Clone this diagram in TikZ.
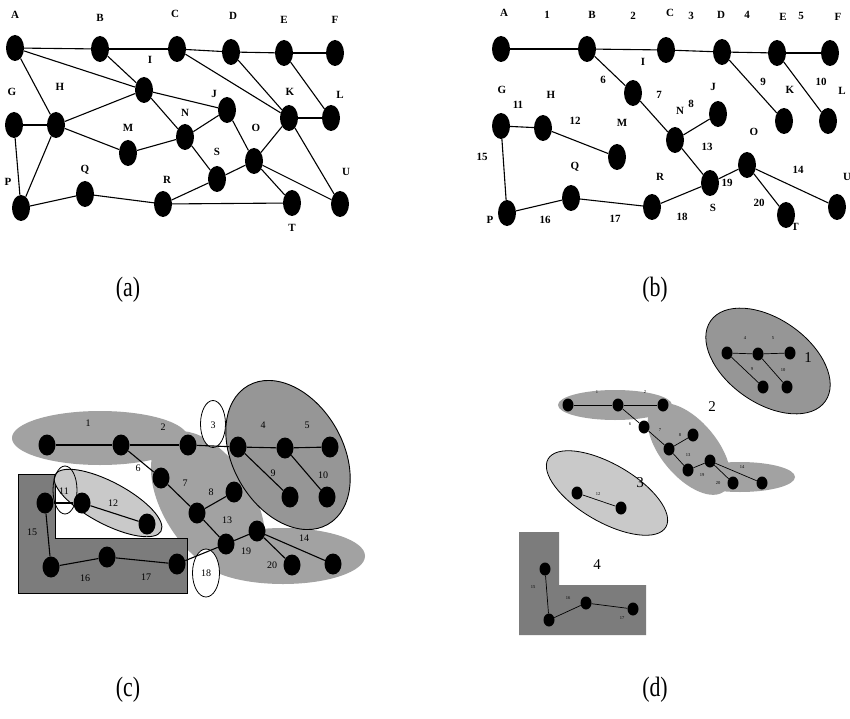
\documentclass[tikz,border=0pt]{standalone}
\usepackage{fontspec}
\setmainfont{Liberation Serif}
\usetikzlibrary{shapes.geometric}
\definecolor{regc}{HTML}{A2A2A2}
\definecolor{regone}{HTML}{969696}
\definecolor{regthree}{HTML}{C9C9C9}
\definecolor{regfour}{HTML}{7C7C7C}
\tikzset{
  vtx/.style={ellipse, fill=black, inner sep=0pt, minimum width=18pt, minimum height=26pt},
  cvtx/.style={ellipse, fill=black, inner sep=0pt, minimum width=17pt, minimum height=21pt},
  dvtx/.style={ellipse, fill=black, inner sep=0pt, minimum width=11pt, minimum height=13pt},
  lbl/.style={font=\fontsize{11}{11}\selectfont\bfseries, inner sep=0pt},
  clbl/.style={font=\fontsize{10}{10}\selectfont, inner sep=0pt},
  dlbl/.style={font=\fontsize{4.5}{4.5}\selectfont, inner sep=0pt},
  biglbl/.style={font=\fontsize{15}{15}\selectfont, inner sep=0pt},
  caplbl/.style={font=\fontsize{28}{28}\selectfont, inner sep=0pt},
  edge/.style={line width=1.1pt},
  dedge/.style={line width=0.7pt},
  ring/.style={draw=black, line width=0.8pt}
}
\begin{document}
\begin{tikzpicture}[x=1pt, y=-1pt]
\useasboundingbox (0,0) rectangle (850,719);
\fill[white] (0,0) rectangle (850,719);

%%%%%%%%%%%%%%%% (a)
\foreach \n/\x/\y in {A/15/48, B/100/49, C/177/49, D/231/52, E/284/53, F/335/53,
  I/144/90, G/14/125, H/56/125, J/227/110, K/289/118, L/331/118, M/128/153,
  N/185/137, O/254/161, S/217/179, P/21/208, Q/85/194, R/163/204, T/292/203, U/340/204}
  \node[vtx] (a\n) at (\x,\y) {};
\foreach \u/\v in {A/B, B/C, C/D, D/E, E/F, A/I, A/H, B/I, I/H, I/J, I/N, C/K, D/K,
  E/L, K/L, G/H, G/P, H/P, H/M, M/N, N/J, N/S, J/O, K/O, K/U, O/S, S/R, O/T, O/U,
  P/Q, Q/R, R/T}
  \draw[edge] (a\u) -- (a\v);
\foreach \n/\t/\x/\y in {A/A/15/15, B/B/100/18, C/C/175/14, D/D/233/16, E/E/284/20,
  F/F/335/20, I/I/150/60, G/G/12/92, H/H/60/87, J/J/214/94, K/K/290/92, L/L/340/95,
  M/M/128/128, N/N/185/113, O/O/256/128, S/S/217/152, P/P/8/182, Q/Q/85/170,
  R/R/167/180, T/T/292/228, U/U/346/172}
  \node[lbl] (al\n) at (\x,\y) {\t};
\node[caplbl] (capa) at (128,290) {\scalebox{0.78}[1]{(a)}};

%%%%%%%%%%%%%%%% (b)
\foreach \n/\x/\y in {A/501/49, B/587/49, C/666/50, D/722/52, E/777/53, F/830/53,
  I/633/93, N/675/140, J/718/114, K/784/121, L/828/121, G/501/126, H/543/128,
  M/617/157, O/747/165, S/710/183, P/507/213, Q/571/198, R/652/207, T/786/215, U/837/207}
  \node[vtx] (b\n) at (\x,\y) {};
\foreach \u/\v in {A/B, B/C, C/D, D/E, E/F, B/I, I/N, N/J, D/K, E/L, G/H, H/M, N/S,
  O/U, G/P, P/Q, Q/R, R/S, S/O, O/T}
  \draw[edge] (b\u) -- (b\v);
\foreach \n/\t/\x/\y in {A/A/504/13, B/B/592/15, C/C/670/13, D/D/721/15, E/E/783/17,
  F/F/838/17, I/I/643/62, K/K/790/90, L/L/842/91, J/J/713/87, N/N/680/111,
  G/G/502/90, H/H/551/95, M/M/622/123, O/O/754/132, Q/Q/575/167, R/R/660/177,
  U/U/847/177, S/S/713/208, T/T/795/227, P/P/490/220}
  \node[lbl] (bl\n) at (\x,\y) {\t};
\foreach \t/\x/\y in {1/547/15, 2/633/16, 3/691/16, 4/747/15, 5/801/16, 6/603/80,
  7/659/95, 8/691/104, 9/763/82, 10/821/82, 11/518/105, 12/575/121, 13/707/147,
  14/798/170, 15/482/157, 16/545/220, 17/615/219, 18/682/217, 19/727/183, 20/759/203}
  \node[lbl] (bn\t) at (\x,\y) {\t};
\node[caplbl] (capb) at (655,290) {\scalebox{0.78}[1]{(b)}};

%%%%%%%%%%%%%%%% (c)
% regions
\fill[regc] (100,438) ellipse [x radius=88, y radius=27];
\begin{scope}[shift={(208,503)}, rotate=-58]
  \fill[regc] (0,0) ellipse [x radius=80, y radius=45];
\end{scope}
\fill[regc] (283,556) ellipse [x radius=82, y radius=28];
\begin{scope}[shift={(288,455)}, rotate=-60]
  \filldraw[fill=regone, draw=black, line width=0.9pt] (0,0) ellipse [x radius=80, y radius=55];
\end{scope}
\filldraw[fill=regfour, draw=black, line width=0.9pt]
  (18,474) -- (55,474) -- (55,538) -- (187,538) -- (187,593) -- (18,593) -- cycle;
\begin{scope}[shift={(108,503)}, rotate=-28]
  \filldraw[fill=regthree, draw=black, line width=0.9pt] (0,0) ellipse [x radius=60, y radius=21];
\end{scope}
\filldraw[fill=white, ring] (213,424) ellipse [x radius=12.5, y radius=23.5];
\filldraw[fill=white, ring] (206,573) ellipse [x radius=13.5, y radius=24];
\draw[ring] (65,490) ellipse [x radius=12, y radius=24];
% nodes
\foreach \n/\x/\y in {A/47/445, B/121/445, C/188/445, D/238/447, E/285/448, F/330/447,
  I/161/478, J/234/492, K/290/497, L/327/497, N/197/513, G/45/503, H/82/503,
  M/147/524, O/257/531, S/226/544, P/51/567, Q/107/557, R/177/564, T/292/565, U/333/564}
  \node[cvtx] (c\n) at (\x,\y) {};
\foreach \u/\v in {A/B, B/C, C/D, D/E, E/F, B/I, I/N, N/J, D/K, E/L, G/H, H/M, N/S,
  O/U, G/P, P/Q, Q/R, R/S, S/O, O/T}
  \draw[edge] (c\u) -- (c\v);
\foreach \t/\x/\y in {1/88/423, 2/163/427, 3/213/425, 4/263/425, 5/307/425, 6/138/468,
  7/185/483, 8/211/492, 9/273/473, 10/323/475, 11/64/491, 12/113/503, 13/227/520,
  14/304/538, 15/32/532, 16/85/578, 17/146/577, 18/206/573, 19/246/551, 20/272/565}
  \node[clbl] (cn\t) at (\x,\y) {\t};
\node[caplbl] (capc) at (128,690) {\scalebox{0.78}[1]{(c)}};

%%%%%%%%%%%%%%%% (d)
\begin{scope}[shift={(768,361)}, rotate=-35]
  \filldraw[fill=regone, draw=black, line width=0.8pt] (0,0) ellipse [x radius=70, y radius=42];
\end{scope}
\fill[regc] (615,405) ellipse [x radius=57, y radius=15];
\begin{scope}[shift={(689,449)}, rotate=-50]
  \fill[regc] (0,0) ellipse [x radius=55, y radius=28];
\end{scope}
\fill[regc] (740,477) ellipse [x radius=55, y radius=15];
\begin{scope}[shift={(607,493)}, rotate=-30]
  \filldraw[fill=regthree, draw=black, line width=0.8pt] (0,0) ellipse [x radius=68, y radius=29];
\end{scope}
\fill[regfour] (519,532) -- (559,532) -- (559,585) -- (646,585) -- (646,635) -- (519,635) -- cycle;
\foreach \n/\x/\y in {D/727/353, E/758/354, F/790/353, K/763/387, L/787/387,
  A/568/405, B/618/405, C/663/405, I/644/427, J/693/435, N/669/449, S/688/470,
  O/710/461, T/733/483, U/762/483, H/577/493, M/621/508,
  G/545/569, P/549/620, Q/586/603, R/633/609}
  \node[dvtx] (d\n) at (\x,\y) {};
\foreach \u/\v in {A/B, B/C, D/E, E/F, B/I, I/N, N/J, D/K, E/L, H/M, N/S,
  O/U, G/P, P/Q, Q/R, S/O, O/T}
  \draw[dedge] (d\u) -- (d\v);
\foreach \t/\x/\y in {4/745/338, 5/773/338, 9/752/369, 10/783/370, 1/597/392, 2/645/392,
  6/630/424, 7/660/430, 8/680/435, 13/688/455, 19/702/475, 20/718/483, 14/742/467,
  12/598/494, 15/533/587, 16/568/598, 17/622/618}
  \node[dlbl] (dn\t) at (\x,\y) {\t};
\node[biglbl] (dr1) at (808,358) {1};
\node[biglbl] (dr2) at (712,407) {2};
\node[biglbl] (dr3) at (640,483) {3};
\node[biglbl] (dr4) at (597,565) {4};
\node[caplbl] (capd) at (655,690) {\scalebox{0.78}[1]{(d)}};
\end{tikzpicture}
\end{document}
